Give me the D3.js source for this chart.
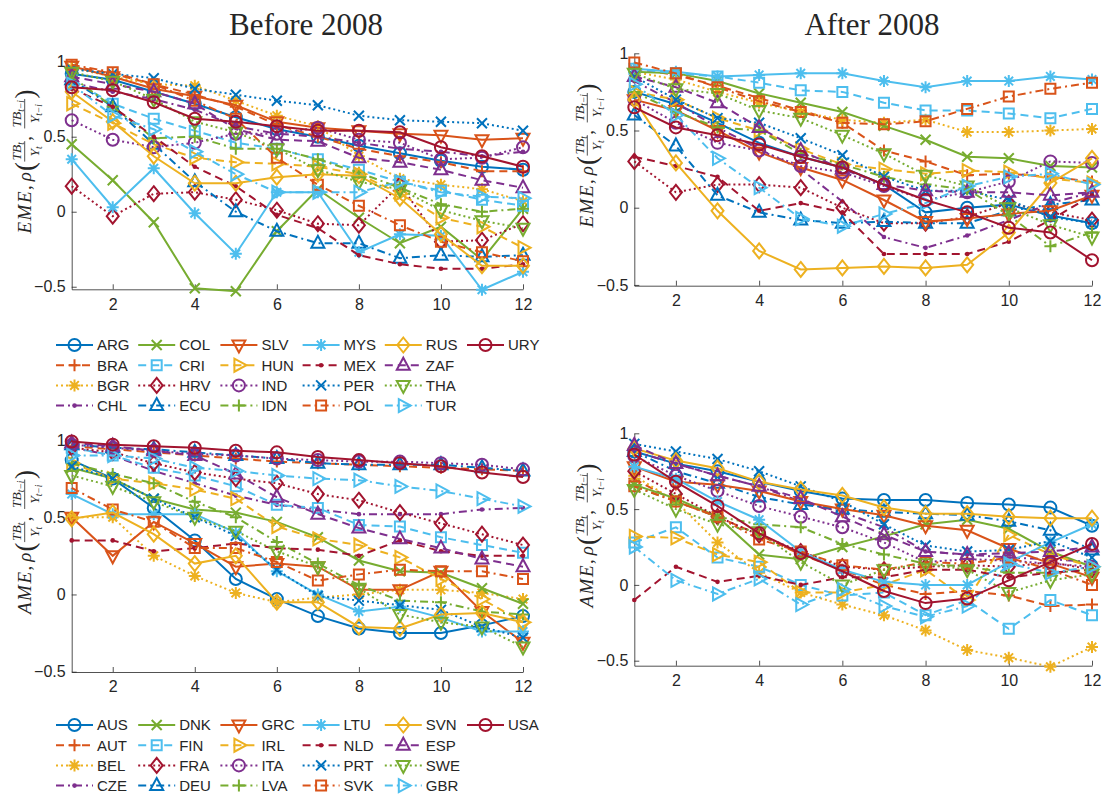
<!DOCTYPE html>
<html>
<head>
<meta charset="utf-8">
<script src="https://cdn.jsdelivr.net/npm/d3@7"></script>
<style>
  body { margin: 0; background: #fff; }
  text { fill: #262626; }
</style>
</head>
<body>
<div id="chart"></div>
<script>
// horizons i = 1..12
var lags = [1, 2, 3, 4, 5, 6, 7, 8, 9, 10, 11, 12];
var xTicks = [2, 4, 6, 8, 10, 12];
var yTicks = [-0.5, 0, 0.5, 1];
var titles = ['Before 2008', 'After 2008'];

var emeCountries = ['ARG', 'BRA', 'BGR', 'CHL', 'COL', 'CRI', 'HRV', 'ECU', 'SLV', 'HUN', 'IND',
  'IDN', 'MYS', 'MEX', 'PER', 'POL', 'RUS', 'ZAF', 'THA', 'TUR', 'URY'];
var ameCountries = ['AUS', 'AUT', 'BEL', 'CZE', 'DNK', 'FIN', 'FRA', 'DEU', 'GRC', 'IRL', 'ITA',
  'LVA', 'LTU', 'NLD', 'PRT', 'SVK', 'SVN', 'ESP', 'SWE', 'GBR', 'USA'];

// one row per country, same order as the country lists
var emeBefore = [
  [0.92, 0.88, 0.80, 0.72, 0.63, 0.55, 0.50, 0.44, 0.39, 0.34, 0.30, 0.28],
  [0.97, 0.92, 0.85, 0.78, 0.70, 0.58, 0.50, 0.42, 0.37, 0.33, 0.27, 0.27],
  [0.96, 0.90, 0.85, 0.84, 0.74, 0.64, 0.57, 0.37, 0.22, 0.18, 0.15, 0.07],
  [0.86, 0.80, 0.75, 0.68, 0.57, 0.52, 0.50, 0.46, 0.42, 0.40, 0.37, 0.40],
  [0.45, 0.21, -0.07, -0.51, -0.53, -0.13, 0.15, -0.04, -0.21, -0.10, -0.32, 0.02],
  [0.88, 0.72, 0.62, 0.54, 0.46, 0.42, 0.35, 0.28, 0.20, 0.14, 0.08, 0.04],
  [0.17, -0.03, 0.12, 0.13, 0.08, 0.01, -0.08, -0.09, 0.18, -0.20, -0.19, -0.08],
  [0.88, 0.70, 0.45, 0.20, 0.00, -0.13, -0.21, -0.21, -0.31, -0.29, -0.30, -0.29],
  [0.97, 0.90, 0.82, 0.77, 0.71, 0.60, 0.56, 0.54, 0.52, 0.51, 0.48, 0.49],
  [0.72, 0.59, 0.45, 0.36, 0.33, 0.32, 0.30, 0.25, 0.12, -0.04, -0.10, -0.24],
  [0.61, 0.48, 0.43, 0.46, 0.52, 0.52, 0.56, 0.48, 0.46, 0.35, 0.36, 0.43],
  [0.90, 0.70, 0.49, 0.50, 0.42, 0.42, 0.35, 0.26, 0.16, 0.05, 0.00, 0.02],
  [0.35, 0.03, 0.29, -0.01, -0.28, 0.13, 0.13, -0.27, -0.15, -0.16, -0.52, -0.40],
  [0.82, 0.70, 0.50, 0.30, 0.17, -0.02, -0.11, -0.29, -0.35, -0.38, -0.38, -0.35],
  [0.95, 0.92, 0.89, 0.82, 0.78, 0.74, 0.71, 0.64, 0.61, 0.60, 0.59, 0.54],
  [0.98, 0.93, 0.85, 0.74, 0.62, 0.36, 0.18, 0.04, -0.09, -0.20, -0.27, -0.33],
  [0.80, 0.60, 0.37, 0.19, 0.19, 0.23, 0.25, 0.24, 0.09, -0.15, -0.36, -0.36],
  [0.90, 0.85, 0.80, 0.72, 0.55, 0.48, 0.47, 0.36, 0.33, 0.28, 0.21, 0.16],
  [0.93, 0.87, 0.75, 0.60, 0.53, 0.42, 0.28, 0.20, 0.15, 0.01, -0.06, -0.11],
  [0.85, 0.64, 0.55, 0.40, 0.25, 0.13, 0.13, 0.13, 0.20, 0.13, 0.10, 0.09],
  [0.83, 0.81, 0.73, 0.62, 0.60, 0.57, 0.54, 0.54, 0.53, 0.43, 0.37, 0.30]
];
var emeAfter = [
  [0.75, 0.67, 0.55, 0.42, 0.33, 0.26, 0.15, -0.03, 0.00, 0.02, -0.05, -0.10],
  [0.90, 0.86, 0.79, 0.71, 0.63, 0.55, 0.37, 0.30, 0.21, 0.22, 0.20, 0.17],
  [0.88, 0.83, 0.75, 0.68, 0.62, 0.57, 0.55, 0.57, 0.49, 0.49, 0.50, 0.51],
  [0.82, 0.68, 0.52, 0.38, 0.25, 0.04, -0.19, -0.26, -0.18, -0.08, 0.03, 0.10],
  [0.88, 0.87, 0.82, 0.74, 0.68, 0.62, 0.53, 0.44, 0.33, 0.32, 0.27, 0.26],
  [0.90, 0.87, 0.85, 0.81, 0.76, 0.75, 0.68, 0.63, 0.63, 0.61, 0.58, 0.64],
  [0.30, 0.10, 0.15, 0.15, 0.13, 0.00, -0.10, -0.10, -0.06, 0.03, -0.03, -0.08],
  [0.60, 0.40, 0.08, -0.03, -0.08, -0.10, -0.09, -0.10, -0.10, -0.02, 0.02, 0.05],
  [0.70, 0.63, 0.50, 0.36, 0.26, 0.18, 0.05, -0.09, -0.07, -0.04, -0.02, 0.08],
  [0.75, 0.70, 0.58, 0.50, 0.38, 0.28, 0.25, 0.22, 0.24, 0.23, 0.19, 0.16],
  [0.70, 0.55, 0.42, 0.37, 0.27, 0.23, 0.14, 0.05, 0.10, 0.17, 0.30, 0.29],
  [0.75, 0.62, 0.52, 0.50, 0.35, 0.28, 0.20, 0.15, 0.12, -0.05, -0.25, -0.16],
  [0.90, 0.88, 0.85, 0.86, 0.87, 0.87, 0.82, 0.78, 0.82, 0.82, 0.85, 0.83],
  [0.33, 0.27, 0.20, -0.02, 0.03, -0.03, -0.30, -0.30, -0.30, -0.22, -0.08, 0.08],
  [0.85, 0.70, 0.58, 0.55, 0.45, 0.34, 0.20, 0.11, 0.11, 0.05, -0.06, -0.10],
  [0.94, 0.87, 0.78, 0.69, 0.62, 0.55, 0.54, 0.56, 0.64, 0.72, 0.77, 0.81],
  [0.70, 0.29, -0.02, -0.28, -0.40, -0.39, -0.38, -0.39, -0.37, -0.16, 0.16, 0.32],
  [0.85, 0.78, 0.68, 0.52, 0.37, 0.25, 0.15, 0.11, 0.10, 0.10, 0.08, 0.10],
  [0.87, 0.77, 0.74, 0.63, 0.58, 0.47, 0.35, 0.21, 0.14, 0.00, -0.11, -0.19],
  [0.80, 0.60, 0.32, 0.13, -0.07, -0.12, -0.04, 0.03, 0.14, 0.20, 0.22, 0.15],
  [0.65, 0.52, 0.47, 0.41, 0.33, 0.26, 0.15, 0.05, -0.03, -0.13, -0.16, -0.34]
];
var ameBefore = [
  [0.87, 0.75, 0.56, 0.35, 0.10, -0.03, -0.14, -0.22, -0.25, -0.25, -0.20, -0.14],
  [0.96, 0.94, 0.92, 0.90, 0.88, 0.86, 0.85, 0.84, 0.83, 0.82, 0.81, 0.80],
  [0.50, 0.50, 0.25, 0.12, 0.01, -0.05, -0.02, 0.00, 0.03, 0.03, 0.01, -0.03],
  [0.95, 0.90, 0.80, 0.72, 0.64, 0.58, 0.55, 0.52, 0.52, 0.52, 0.55, 0.56],
  [0.82, 0.75, 0.62, 0.55, 0.53, 0.47, 0.37, 0.22, 0.15, 0.14, 0.04, -0.06],
  [0.95, 0.90, 0.82, 0.77, 0.70, 0.58, 0.56, 0.45, 0.44, 0.37, 0.32, 0.27],
  [0.95, 0.92, 0.85, 0.79, 0.75, 0.72, 0.65, 0.61, 0.53, 0.46, 0.39, 0.32],
  [0.97, 0.95, 0.94, 0.92, 0.90, 0.88, 0.85, 0.84, 0.84, 0.84, 0.82, 0.80],
  [0.50, 0.25, 0.47, 0.33, 0.18, 0.20, 0.18, 0.03, 0.03, 0.15, -0.11, -0.31],
  [0.85, 0.75, 0.72, 0.68, 0.62, 0.44, 0.36, 0.32, 0.24, 0.10, -0.03, -0.18],
  [0.97, 0.95, 0.93, 0.91, 0.90, 0.88, 0.87, 0.86, 0.86, 0.85, 0.84, 0.81],
  [0.85, 0.78, 0.72, 0.60, 0.50, 0.34, 0.20, 0.06, -0.04, -0.05, -0.11, -0.13],
  [0.65, 0.52, 0.52, 0.52, 0.40, 0.15, 0.00, -0.11, -0.08, -0.15, -0.24, -0.24],
  [0.35, 0.35, 0.28, 0.30, 0.33, 0.30, 0.29, 0.25, 0.35, 0.28, 0.25, 0.25],
  [0.83, 0.75, 0.62, 0.50, 0.38, 0.16, -0.01, -0.04, -0.07, -0.10, -0.21, -0.28],
  [0.69, 0.55, 0.47, 0.30, 0.30, 0.21, 0.09, 0.13, 0.16, 0.15, 0.15, 0.10],
  [0.49, 0.53, 0.39, 0.20, 0.25, -0.05, -0.05, -0.21, -0.22, -0.13, -0.12, -0.18],
  [0.98, 0.96, 0.93, 0.90, 0.78, 0.63, 0.52, 0.43, 0.36, 0.30, 0.23, 0.18],
  [0.77, 0.70, 0.60, 0.50, 0.41, 0.28, 0.18, 0.04, -0.13, -0.18, -0.21, -0.34],
  [0.90, 0.90, 0.88, 0.82, 0.80, 0.77, 0.75, 0.74, 0.70, 0.67, 0.62, 0.57],
  [0.99, 0.97, 0.96, 0.95, 0.93, 0.92, 0.89, 0.87, 0.85, 0.83, 0.79, 0.76]
];
var ameAfter = [
  [0.88, 0.80, 0.75, 0.68, 0.62, 0.57, 0.56, 0.56, 0.54, 0.53, 0.51, 0.39],
  [0.70, 0.55, 0.45, 0.33, 0.20, 0.10, 0.00, -0.06, -0.04, -0.07, -0.14, -0.13],
  [0.72, 0.55, 0.28, 0.08, -0.05, -0.13, -0.20, -0.30, -0.43, -0.48, -0.54, -0.41],
  [0.88, 0.80, 0.72, 0.65, 0.55, 0.48, 0.38, 0.22, 0.20, 0.18, 0.17, 0.15],
  [0.66, 0.57, 0.45, 0.20, 0.17, 0.25, 0.32, 0.40, 0.43, 0.37, 0.22, 0.12],
  [0.28, 0.38, 0.18, 0.12, 0.00, -0.07, -0.05, -0.20, -0.10, -0.29, -0.10, -0.20],
  [0.75, 0.60, 0.45, 0.33, 0.22, 0.12, 0.10, 0.12, 0.13, 0.12, 0.15, 0.10],
  [0.88, 0.75, 0.67, 0.58, 0.53, 0.50, 0.48, 0.47, 0.46, 0.42, 0.36, 0.23],
  [0.78, 0.68, 0.66, 0.62, 0.55, 0.50, 0.46, 0.39, 0.36, 0.24, 0.14, 0.05],
  [0.32, 0.31, 0.20, 0.15, -0.05, -0.05, 0.00, 0.10, -0.10, 0.33, 0.20, 0.12],
  [0.85, 0.72, 0.62, 0.52, 0.45, 0.38, 0.28, 0.15, 0.17, 0.16, 0.14, 0.12],
  [0.65, 0.55, 0.45, 0.40, 0.38, 0.27, 0.20, 0.14, 0.12, 0.08, 0.08, 0.10],
  [0.78, 0.70, 0.55, 0.43, 0.22, 0.10, 0.02, 0.00, 0.00, 0.15, 0.28, 0.40],
  [-0.10, 0.12, 0.02, 0.06, 0.00, 0.05, 0.05, 0.10, 0.10, 0.05, 0.08, 0.10],
  [0.93, 0.88, 0.83, 0.75, 0.65, 0.55, 0.40, 0.26, 0.22, 0.23, 0.29, 0.18],
  [0.65, 0.55, 0.45, 0.30, 0.22, 0.13, 0.10, 0.15, 0.14, 0.18, 0.10, 0.00],
  [0.90, 0.82, 0.77, 0.68, 0.63, 0.59, 0.51, 0.47, 0.47, 0.45, 0.44, 0.44],
  [0.92, 0.80, 0.72, 0.65, 0.57, 0.45, 0.33, 0.22, 0.20, 0.21, 0.22, 0.25],
  [0.63, 0.50, 0.40, 0.35, 0.15, 0.00, 0.10, 0.14, 0.10, -0.05, 0.03, 0.07],
  [0.25, 0.03, -0.06, 0.04, -0.13, -0.03, -0.14, -0.21, -0.14, 0.14, 0.08, 0.12],
  [0.86, 0.68, 0.52, 0.34, 0.21, 0.09, -0.04, -0.12, -0.09, 0.03, 0.15, 0.27]
];

// matlab default style cycles
var COLORS = ['#0072BD', '#D95319', '#EDB120', '#7E2F8E', '#77AC30', '#4DBEEE', '#A2142F'];
var DASHES = [null, '8,5', '2,3', '8,4,2,4'];
var MARKERS = ['o', '+', '*', '.', 'x', 's', 'd', '^', 'v', '>'];
var AXIS_COLOR = '#262626';
var FONT = '"Liberation Sans", Arial, sans-serif';
var SERIF = '"Liberation Serif", "Times New Roman", serif';

var svg = d3.select('#chart').append('svg')
  .attr('width', 1103)
  .attr('height', 796);

function markerPath(m) {
  switch (m) {
    case '+': return 'M-6,0H6M0,-6V6';
    case '*': return 'M-6,0H6M0,-6V6M-4.3,-4.3L4.3,4.3M-4.3,4.3L4.3,-4.3';
    case 'x': return 'M-5,-5L5,5M-5,5L5,-5';
    case 's': return 'M-5,-5H5V5H-5Z';
    case 'd': return 'M0,-7.5L6,0L0,7.5L-6,0Z';
    case '^': return 'M0,-7.5L6.5,4.5L-6.5,4.5Z';
    case 'v': return 'M0,7.5L6.5,-4.5L-6.5,-4.5Z';
    case '>': return 'M7.5,0L-4.5,-6.5L-4.5,6.5Z';
  }
  return null;
}

function drawMarker(g, i, cx, cy) {
  var m = MARKERS[i % MARKERS.length], c = COLORS[i % COLORS.length];
  if (m === 'o') {
    g.append('circle').attr('cx', cx).attr('cy', cy).attr('r', 6)
      .attr('fill', 'none').attr('stroke', c).attr('stroke-width', 2);
  } else if (m === '.') {
    g.append('circle').attr('cx', cx).attr('cy', cy).attr('r', 2.3).attr('fill', c);
  } else {
    g.append('path').attr('d', markerPath(m))
      .attr('transform', 'translate(' + cx + ',' + cy + ')')
      .attr('fill', 'none').attr('stroke', c).attr('stroke-width', 2)
      .attr('stroke-linejoin', 'miter');
  }
}

// y label: NAME, rho(TB_t/Y_t, TB_{t-i}/Y_{t-i}), rotated
function yLabel(cx, cy, name) {
  var g = svg.append('g').attr('transform', 'translate(' + cx + ',' + cy + ') rotate(-90)');
  var inner = g.append('g').style('font-family', SERIF);
  var x = 0;
  function txt(str, size, italic, y) {
    var t = inner.append('text').attr('x', x).attr('y', y || 0)
      .attr('font-size', size).attr('font-style', italic ? 'italic' : 'normal')
      .text(str);
    x += t.node().getComputedTextLength();
  }
  function gap(w) { x += w; }
  function part(y, main, sub) {
    var t = inner.append('text').attr('y', y).attr('font-size', 13.5).attr('font-style', 'italic');
    t.append('tspan').text(main);
    t.append('tspan').attr('font-size', 9.5).attr('dy', 3).text(sub);
    return t;
  }
  function frac(n, ns, d, ds) {
    var a = part(-9.5, n, ns), b = part(8, d, ds);
    var wa = a.node().getComputedTextLength(), wb = b.node().getComputedTextLength();
    var w = Math.max(wa, wb) + 3;
    a.attr('x', x + (w - wa) / 2);
    b.attr('x', x + (w - wb) / 2);
    inner.append('line').attr('x1', x + 0.5).attr('x2', x + w - 0.5)
      .attr('y1', -6).attr('y2', -6)
      .attr('stroke', AXIS_COLOR).attr('stroke-width', 0.8);
    x += w;
  }
  name.split('').forEach(function (ch) { txt(ch, 19, true); gap(1.5); });
  txt(',', 19, false);
  gap(4);
  txt('\u03C1', 19, true);
  gap(1);
  txt('(', 27, false, 3);
  frac('TB', 't', 'Y', 't');
  txt(',', 19, false);
  gap(7);
  frac('TB', 't\u2212i', 'Y', 't\u2212i');
  txt(')', 27, false, 3);
  inner.attr('transform', 'translate(' + (-x / 2) + ',0)');
}

function panel(p) {
  var x = d3.scaleLinear().domain([1, 12]).range([p.left, p.right]);
  var y = d3.scaleLinear().domain([p.ymin, 1]).range([p.bottom, p.top]);
  var g = svg.append('g');

  var ax = g.append('g').attr('transform', 'translate(0,' + p.bottom + ')')
    .call(d3.axisBottom(x).tickValues(xTicks).tickSizeInner(-5).tickSizeOuter(0).tickPadding(9));
  var ay = g.append('g').attr('transform', 'translate(' + p.left + ',0)')
    .call(d3.axisLeft(y).tickValues(yTicks).tickSizeInner(-5).tickSizeOuter(0).tickPadding(6)
      .tickFormat(function (d) { return d === 0 ? '0' : d3.format('')(d); }));
  [ax, ay].forEach(function (a) {
    a.selectAll('path, line').attr('stroke', AXIS_COLOR).attr('stroke-width', 0.8);
    a.selectAll('text').attr('font-family', FONT).attr('font-size', 16).attr('fill', AXIS_COLOR);
  });

  var line = d3.line()
    .x(function (d, k) { return x(lags[k]); })
    .y(function (d) { return y(d); });

  p.data.forEach(function (vals, i) {
    var sg = g.append('g');
    sg.append('path').datum(vals).attr('d', line)
      .attr('fill', 'none')
      .attr('stroke', COLORS[i % COLORS.length])
      .attr('stroke-width', 2)
      .attr('stroke-dasharray', DASHES[i % DASHES.length]);
    vals.forEach(function (v, k) { drawMarker(sg, i, x(lags[k]), y(v)); });
  });

  yLabel(p.left - 41, (p.top + p.bottom) / 2 - 14, p.name);
}

function legend(countries, x0, y0) {
  countries.forEach(function (c, i) {
    var col = Math.floor(i / 4), row = i % 4;
    var lx = x0 + col * 82.2, ly = y0 + row * 20.2;
    var g = svg.append('g');
    g.append('line').attr('x1', lx).attr('x2', lx + 37).attr('y1', ly).attr('y2', ly)
      .attr('stroke', COLORS[i % COLORS.length]).attr('stroke-width', 2)
      .attr('stroke-dasharray', DASHES[i % DASHES.length]);
    drawMarker(g, i, lx + 18.5, ly);
    g.append('text').attr('x', lx + 41).attr('y', ly).attr('dy', '0.36em')
      .attr('font-family', FONT).attr('font-size', 15).attr('fill', AXIS_COLOR)
      .text(c);
  });
}

panel({ data: emeBefore, name: 'EME', left: 71.7, right: 523, top: 61.7, bottom: 289.3, ymin: -0.517 });
panel({ data: emeAfter, name: 'EME', left: 634.3, right: 1092, top: 53.3, bottom: 285.7, ymin: -0.505 });
panel({ data: ameBefore, name: 'AME', left: 71.7, right: 523, top: 440, bottom: 672, ymin: -0.502 });
panel({ data: ameAfter, name: 'AME', left: 634.3, right: 1092, top: 433.3, bottom: 665.7, ymin: -0.533 });

legend(emeCountries, 56, 345);
legend(ameCountries, 56, 725);

svg.selectAll('.title').data(titles).enter().append('text')
  .attr('x', function (d, i) { return i === 0 ? 306 : 872; })
  .attr('y', 35)
  .attr('text-anchor', 'middle')
  .attr('font-family', SERIF)
  .attr('font-size', 31)
  .attr('fill', '#000')
  .text(function (d) { return d; });
</script>
</body>
</html>
